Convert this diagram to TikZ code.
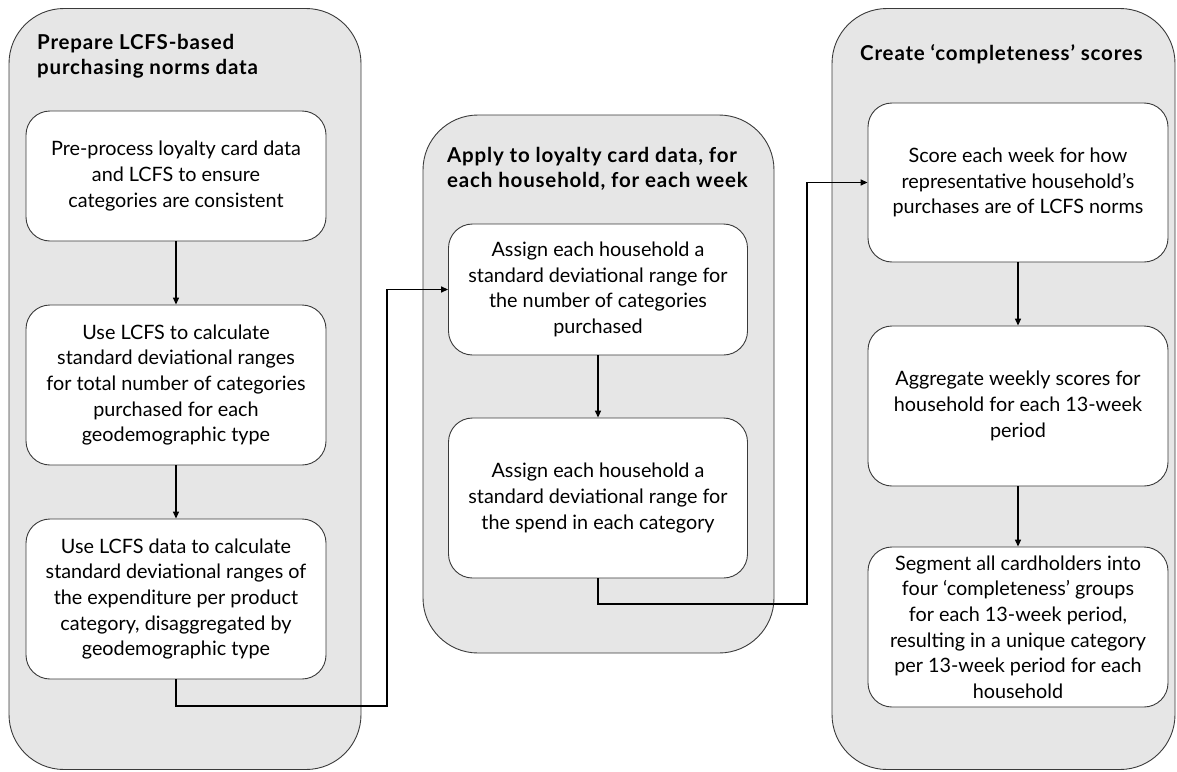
\documentclass[tikz,border=0pt]{standalone}
\usepackage{fontspec}
\setmainfont{Lato}
\newfontfamily\titlefont[LetterSpace=4.0]{Lato}
\usetikzlibrary{arrows.meta}
\definecolor{panelfill}{HTML}{E6E6E6}
\definecolor{edgegray}{HTML}{3A3A3A}
\tikzset{
  panel/.style={draw=edgegray, line width=0.9pt, fill=panelfill, rounded corners=55pt, inner sep=0pt},
  stepbox/.style={draw=edgegray, line width=0.9pt, fill=white, rounded corners=24pt, inner sep=0pt,
    minimum width=300pt, align=center, font=\fontsize{19.8}{25.6}\selectfont},
  paneltitle/.style={anchor=base west, inner sep=0pt, align=left, font=\titlefont\fontsize{20.5}{25}\selectfont\bfseries},
  flow/.style={line width=1.5pt, -{Triangle[length=7pt,width=6pt]}},
}
\begin{document}
\begin{tikzpicture}[x=1pt,y=-1pt]
\useasboundingbox (0,0) rectangle (1177,771);
% panels
\node[panel, minimum width=352pt, minimum height=761pt] (P1) at (185,389) {};
\node[panel, minimum width=351pt, minimum height=538pt] (P2) at (598.5,384) {};
\node[panel, minimum width=343pt, minimum height=761pt] (P3) at (1003.5,389) {};
% titles (base anchor = last line)
\node[paneltitle] (T1) at (37,74) {Prepare LCFS-based\\purchasing norms data};
\node[paneltitle] (T2) at (447,187) {Apply to loyalty card data, for\\each household, for each week};
\node[paneltitle] (T3) at (860,60) {Create ‘completeness’ scores};
% left boxes
\node[stepbox, minimum height=130pt] (L1) at (176,176) {Pre-process loyalty card data\\and LCFS to ensure\\categories are consistent};
\node[stepbox, minimum height=160pt] (L2) at (176,385) {Use LCFS to calculate\\standard deviational ranges\\for total number of categories\\purchased for each\\geodemographic type};
\node[stepbox, minimum height=160pt] (L3) at (176,599) {Use LCFS data to calculate\\standard deviational ranges of\\the expenditure per product\\category, disaggregated by\\geodemographic type};
% middle boxes
\node[stepbox, minimum width=299pt, minimum height=131pt] (M1) at (598,289.5) {Assign each household a\\standard deviational range for\\the number of categories\\purchased};
\node[stepbox, minimum width=299pt, minimum height=160pt] (M2) at (598,498) {Assign each household a\\standard deviational range for\\the spend in each category};
% right boxes
\node[stepbox, minimum height=159pt] (R1) at (1018,182.5) {Score each week for how\\representative household’s\\purchases are of LCFS norms};
\node[stepbox, minimum height=160pt] (R2) at (1018,406) {Aggregate weekly scores for\\household for each 13-week\\period};
\node[stepbox, minimum height=160pt] (R3) at (1018,627) {Segment all cardholders into\\four ‘completeness’ groups\\for each 13-week period,\\resulting in a unique category\\per 13-week period for each\\household};
% connectors
\coordinate (J1) at (387,706);
\coordinate (J2) at (807,604);
\draw[flow] (L1.south) -- (L2.north);
\draw[flow] (L2.south) -- (L3.north);
\draw[flow] (L3.south) |- (J1) |- (M1.west);
\draw[flow] (M1.south) -- (M2.north);
\draw[flow] (M2.south) |- (J2) |- (R1.west);
\draw[flow] (R1.south) -- (R2.north);
\draw[flow] (R2.south) -- (R3.north);
\end{tikzpicture}
\end{document}
